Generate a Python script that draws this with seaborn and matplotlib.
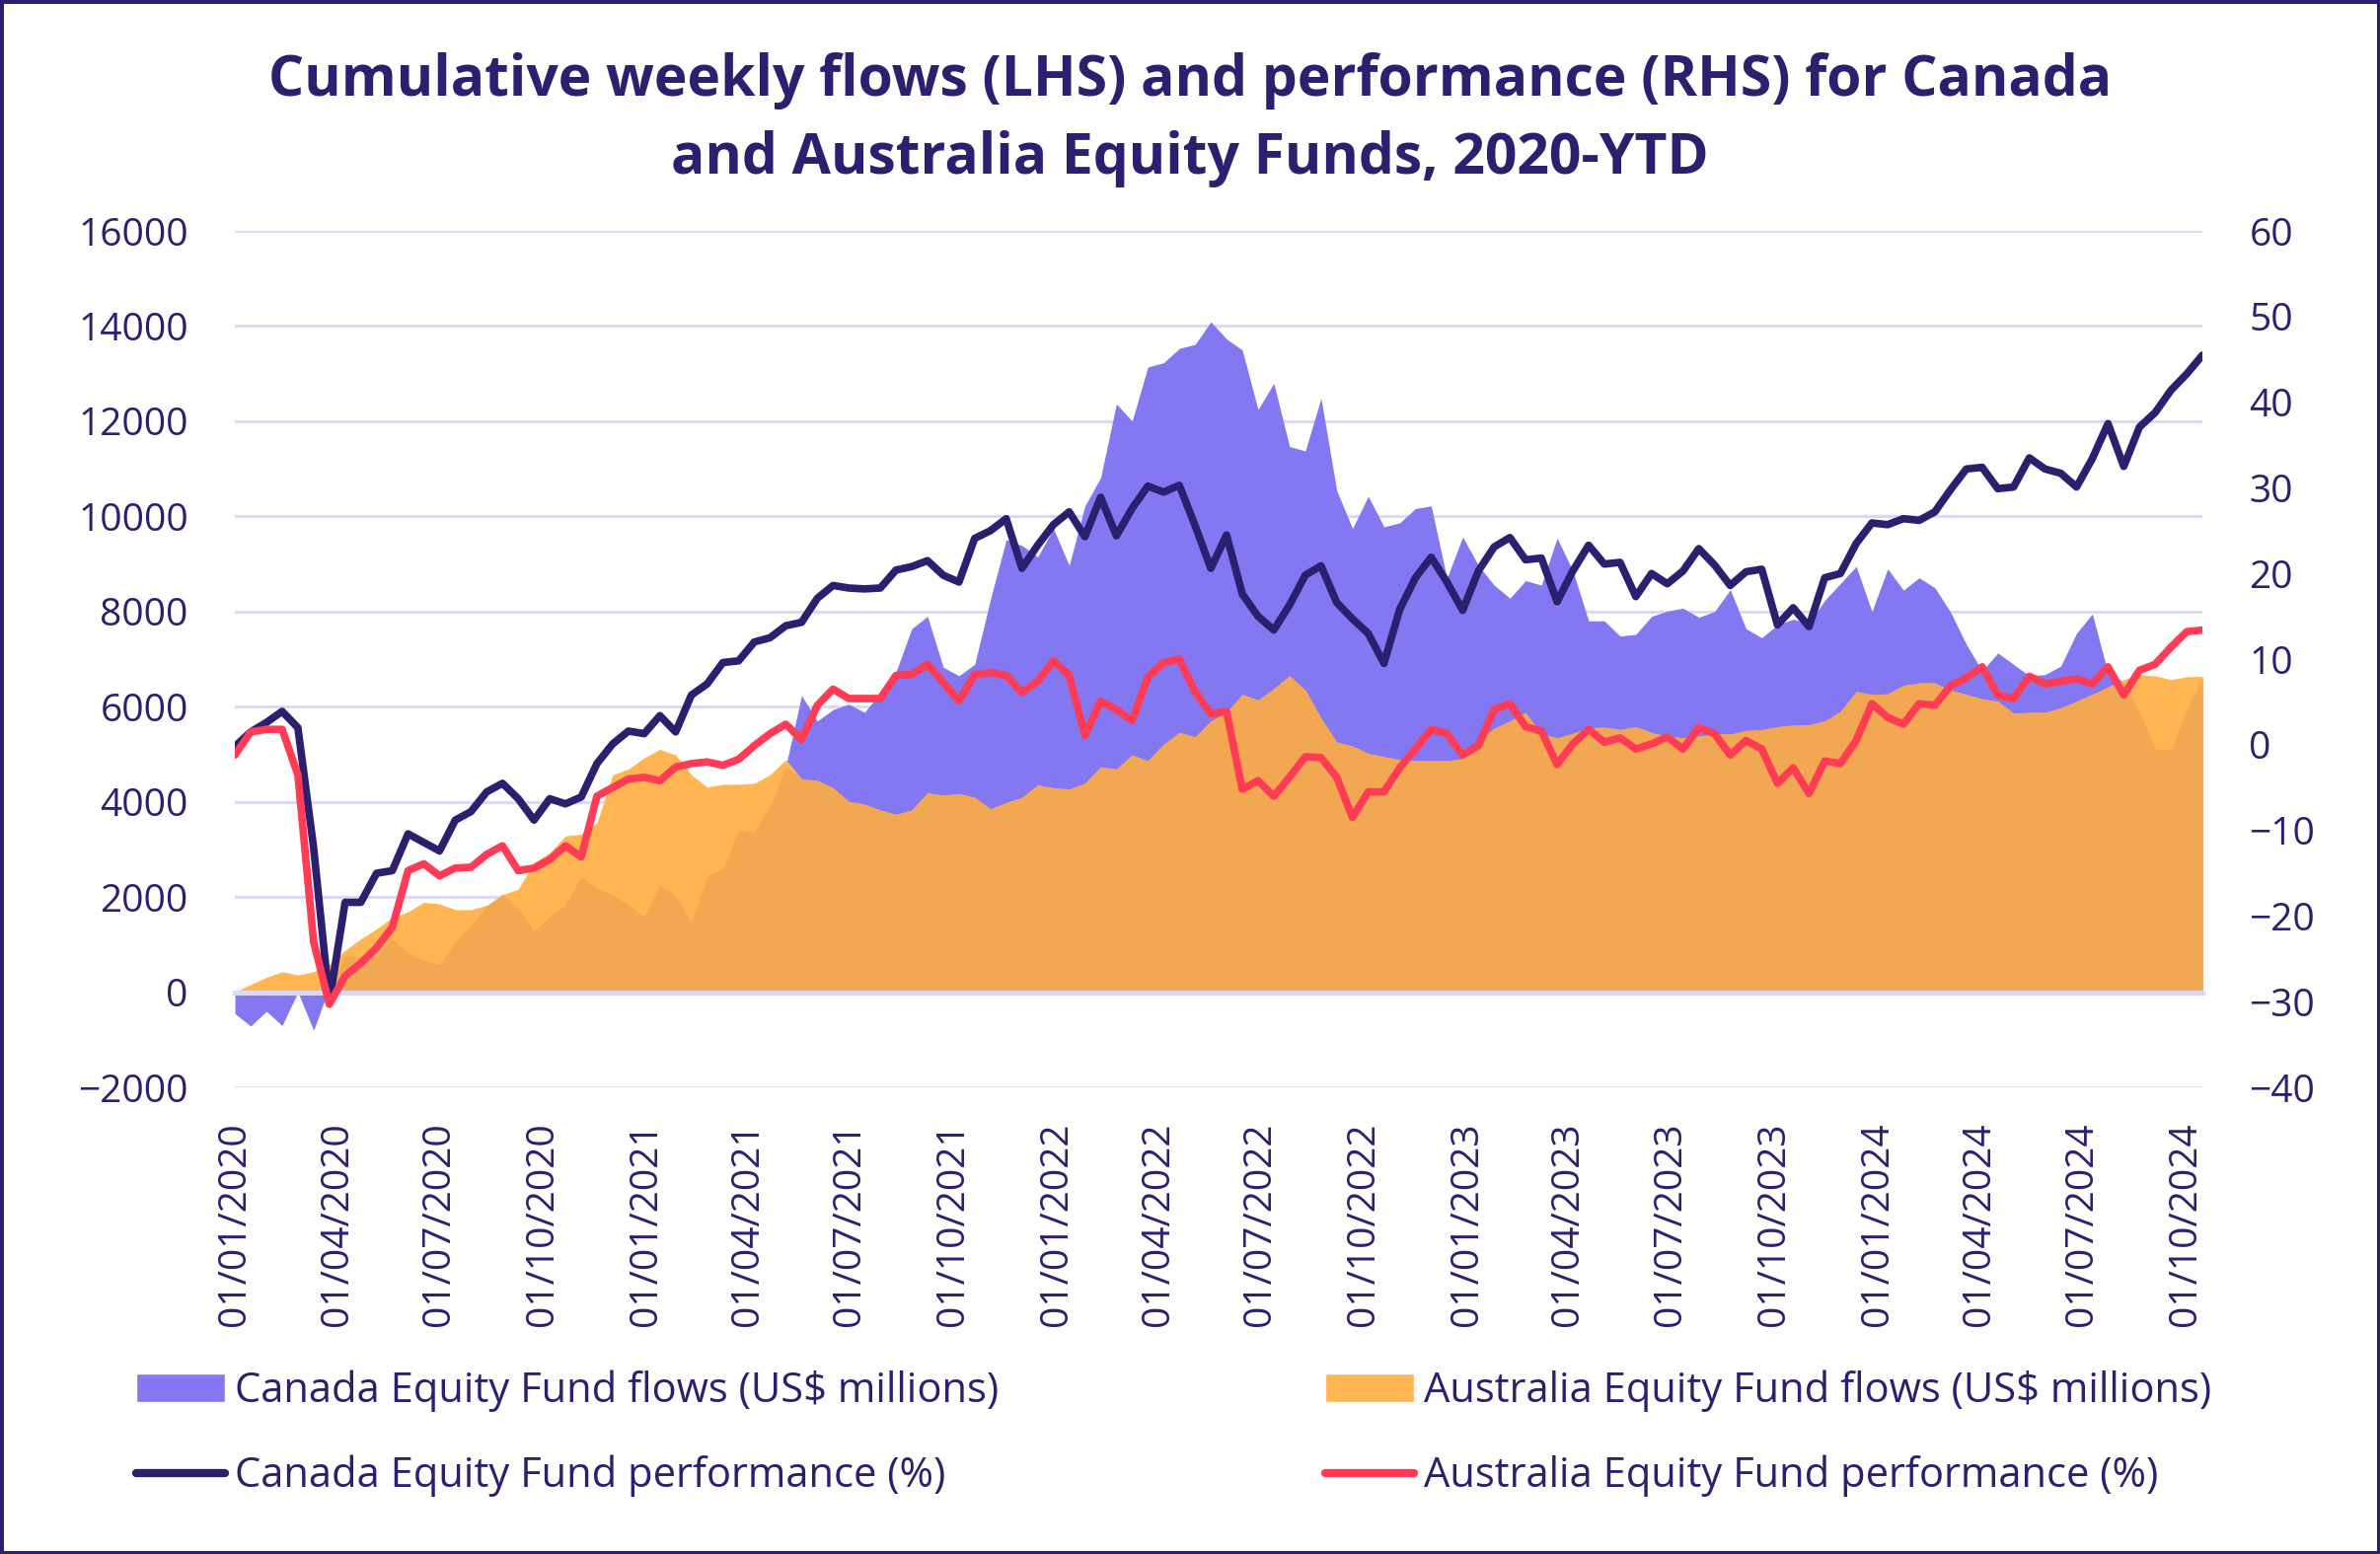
import numpy as np
import pandas as pd
import seaborn as sns
import matplotlib.pyplot as plt
import matplotlib.dates as mdates
from matplotlib.patches import Patch
from matplotlib.lines import Line2D

# fortnightly readings, 01/01/2020 -> 16/10/2024
dates = pd.date_range("2020-01-01", periods=126, freq="14D")

canada_flows = [
    -450, -712, -400, -700, 0, -800, 100, 760, 725, 740,
    1120, 820, 665, 585, 1060, 1415, 1800, 2050, 1775, 1285,
    1595, 1830, 2430, 2190, 2050, 1830, 1600, 2250, 2035, 1475,
    2430, 2600, 3400, 3380, 3915, 4750, 6235, 5700, 5940, 6055,
    5880, 6295, 6735, 7640, 7900, 6830, 6650, 6890, 8260, 9510,
    9390, 9150, 9745, 8970, 10220, 10815, 12365, 12005, 13140, 13230,
    13530, 13615, 14090, 13730, 13495, 12245, 12800, 11470, 11375, 12485,
    10545, 9745, 10425, 9780, 9865, 10165, 10220, 8700, 9570, 8970,
    8555, 8280, 8650, 8555, 9545, 8855, 7805, 7805, 7485, 7520,
    7900, 8010, 8070, 7880, 8000, 8460, 7640, 7450, 7720, 7840,
    7750, 8235, 8590, 8950, 8000, 8900, 8450, 8710, 8500, 7985,
    7310, 6750, 7130, 6890, 6650, 6675, 6855, 7545, 7950, 6710,
    6520, 5880, 5105, 5105, 5940, 6590,
]
australia_flows = [
    0, 165, 310, 430, 360, 430, 585, 880, 1120, 1330,
    1570, 1690, 1890, 1855, 1735, 1735, 1830, 2050, 2165, 2725,
    2930, 3285, 3320, 3560, 4570, 4690, 4925, 5105, 4985, 4570,
    4310, 4370, 4370, 4390, 4570, 4890, 4485, 4450, 4295, 4010,
    3950, 3830, 3735, 3830, 4190, 4140, 4175, 4095, 3855, 3985,
    4095, 4355, 4295, 4270, 4390, 4735, 4690, 4985, 4865, 5210,
    5460, 5365, 5700, 5880, 6260, 6140, 6380, 6650, 6355, 5760,
    5260, 5175, 5020, 4950, 4890, 4865, 4865, 4865, 4905, 5285,
    5545, 5700, 5880, 5425, 5345, 5440, 5555, 5570, 5520, 5580,
    5460, 5380, 5345, 5380, 5425, 5425, 5500, 5520, 5580, 5615,
    5620, 5700, 5900, 6320, 6260, 6270, 6450, 6500, 6500, 6345,
    6260, 6165, 6115, 5865, 5880, 5880, 5975, 6115, 6260, 6415,
    6570, 6675, 6650, 6570, 6630, 6640,
]
canada_perf = [
    -0.2, 1.5, 2.6, 3.9, 2.0, -12, -30, -18.4, -18.4, -15,
    -14.7, -10.4, -11.4, -12.4, -8.8, -7.8, -5.5, -4.5, -6.3, -8.8,
    -6.3, -6.9, -6.1, -2.2, 0.1, 1.6, 1.3, 3.4, 1.5, 5.8,
    7.1, 9.6, 9.8, 12.0, 12.5, 13.9, 14.3, 17.1, 18.6, 18.3,
    18.2, 18.3, 20.4, 20.8, 21.5, 19.8, 19.0, 24.1, 25.0, 26.4,
    20.6, 23.3, 25.7, 27.2, 24.3, 28.9, 24.4, 27.6, 30.2, 29.5,
    30.3, 25.6, 20.6, 24.5, 17.6, 15.0, 13.4, 16.3, 19.8, 20.9,
    16.6, 14.7, 13.0, 9.5, 15.8, 19.5, 21.9, 19.0, 15.7, 20.3,
    23.1, 24.2, 21.6, 21.8, 16.7, 20.3, 23.3, 21.1, 21.3, 17.3,
    20.0, 18.8, 20.3, 22.9, 21.0, 18.6, 20.2, 20.5, 14.0, 16.0,
    13.8, 19.5, 20.0, 23.5, 25.9, 25.7, 26.4, 26.2, 27.2, 29.8,
    32.2, 32.4, 29.9, 30.1, 33.5, 32.2, 31.7, 30.1, 33.4, 37.5,
    32.5, 37.1, 38.8, 41.4, 43.3, 45.5,
]
australia_perf = [
    -1.2, 1.5, 1.8, 1.8, -3.5, -23, -30.3, -27, -25.5, -23.7,
    -21.3, -14.7, -13.9, -15.3, -14.4, -14.3, -12.8, -11.8, -14.7, -14.4,
    -13.4, -11.8, -13.1, -6.0, -5.0, -4.0, -3.8, -4.2, -2.6, -2.2,
    -2.0, -2.4, -1.7, -0.1, 1.3, 2.4, 0.6, 4.6, 6.5, 5.4,
    5.4, 5.4, 8.1, 8.2, 9.4, 7.3, 5.1, 8.2, 8.4, 8.1,
    6.1, 7.4, 9.8, 8.1, 1.1, 5.1, 4.1, 2.8, 7.9, 9.6,
    10.0, 6.2, 3.6, 3.9, -5.2, -4.2, -6.0, -3.8, -1.4, -1.5,
    -3.8, -8.5, -5.5, -5.5, -2.7, -0.5, 1.8, 1.3, -1.2, -0.1,
    4.1, 4.8, 2.1, 1.6, -2.3, 0.1, 1.8, 0.3, 0.8, -0.5,
    0.1, 0.9, -0.5, 2.0, 1.3, -1.2, 0.5, -0.5, -4.5, -2.7,
    -5.7, -1.9, -2.2, 0.5, 4.8, 3.2, 2.4, 4.8, 4.6, 6.9,
    7.8, 9.1, 5.8, 5.4, 8.0, 7.1, 7.4, 7.7, 7.1, 9.1,
    5.8, 8.7, 9.4, 11.4, 13.2, 13.4,
]
quarter_ticks = pd.date_range("2020-01-01", "2024-10-01", freq="QS")

labels = [
    "Canada Equity Fund flows (US$ millions)",
    "Australia Equity Fund flows (US$ millions)",
    "Canada Equity Fund performance (%)",
    "Australia Equity Fund performance (%)",
]

NAVY = "#2B2070"
PURPLE = "#8377F2"
ORANGE = "#FFB552"
OVERLAP = "#F2A852"
RED = "#FF3B55"
GRID = "#DCD8F5"

df = pd.DataFrame({
    "date": dates,
    "canada_flows": canada_flows,
    "australia_flows": australia_flows,
    "canada_perf": canada_perf,
    "australia_perf": australia_perf,
})

sns.set_theme(style="white")
plt.rcParams["font.family"] = ["Open Sans", "DejaVu Sans"]

fig = plt.figure(figsize=(24.12, 15.75), dpi=100)
fig.patch.set_edgecolor(NAVY)
fig.patch.set_linewidth(5)
ax = fig.add_axes([0.0987, 0.3003, 0.8267, 0.5511])
ax2 = ax.twinx()

# flows (left axis)
both = np.clip(np.minimum(df.canada_flows, df.australia_flows), 0, None)
ax.fill_between(df.date, 0, df.canada_flows, color=PURPLE, lw=0, zorder=1)
ax.fill_between(df.date, 0, df.australia_flows, color=ORANGE, lw=0, zorder=1)
ax.fill_between(df.date, 0, both, color=OVERLAP, lw=0, zorder=1)

# performance (right axis)
sns.lineplot(data=df, x="date", y="canada_perf", ax=ax2, color=NAVY, lw=5.5,
             solid_joinstyle="round", solid_capstyle="round")
sns.lineplot(data=df, x="date", y="australia_perf", ax=ax2, color=RED, lw=5.5,
             solid_joinstyle="round", solid_capstyle="round")

ax.set_ylim(-2000, 16000)
ax.set_yticks(range(-2000, 16001, 2000))
ax2.set_ylim(-40, 60)
ax2.set_yticks(range(-40, 61, 10))
ax.set_xlim(dates[0], dates[-1])
ax.set_xticks(quarter_ticks)
ax.xaxis.set_major_formatter(mdates.DateFormatter("%d/%m/%Y"))

ax.set_axisbelow(True)
ax.grid(axis="y", color=GRID, lw=2.2)
ax.grid(axis="x", visible=False)
ax2.grid(False)
for a in (ax, ax2):
    for s in a.spines.values():
        s.set_visible(False)
    a.set_xlabel("")
    a.set_ylabel("")
ax.spines["bottom"].set_visible(True)
ax.spines["bottom"].set_position(("data", 0))
ax.spines["bottom"].set_color(GRID)
ax.spines["bottom"].set_linewidth(3.6)
ax.spines["bottom"].set_zorder(2.5)

ax.tick_params(axis="x", direction="out", length=11, width=3.6, color=GRID,
               pad=84, labelsize=28, labelcolor=NAVY, labelrotation=90)
ax.tick_params(axis="y", length=0, pad=34, labelsize=28, labelcolor=NAVY)
ax2.tick_params(axis="y", length=0, pad=34, labelsize=28, labelcolor=NAVY)

fig.text(0.5, 0.923,
         "Cumulative weekly flows (LHS) and performance (RHS) for Canada\n"
         "and Australia Equity Funds, 2020-YTD",
         ha="center", va="center", fontsize=41, fontweight="bold",
         color=NAVY, linespacing=1.48)

legend_kw = dict(loc="center left", frameon=False, fontsize=30, handlelength=2.15,
                 handleheight=0.68, handletextpad=0.26, labelspacing=1.05,
                 borderpad=0, borderaxespad=0, labelcolor=NAVY)
h_canada = [Patch(facecolor=PURPLE, label=labels[0]),
            Line2D([], [], color=NAVY, lw=6, solid_capstyle="round", label=labels[2])]
h_aus = [Patch(facecolor=ORANGE, label=labels[1]),
         Line2D([], [], color=RED, lw=6, solid_capstyle="round", label=labels[3])]
fig.legend(handles=h_canada, bbox_to_anchor=(138 / 2412, 0.0775), **legend_kw)
fig.legend(handles=h_aus, bbox_to_anchor=(1343 / 2412, 0.0775), **legend_kw)

fig.savefig("out.png", dpi=100)
